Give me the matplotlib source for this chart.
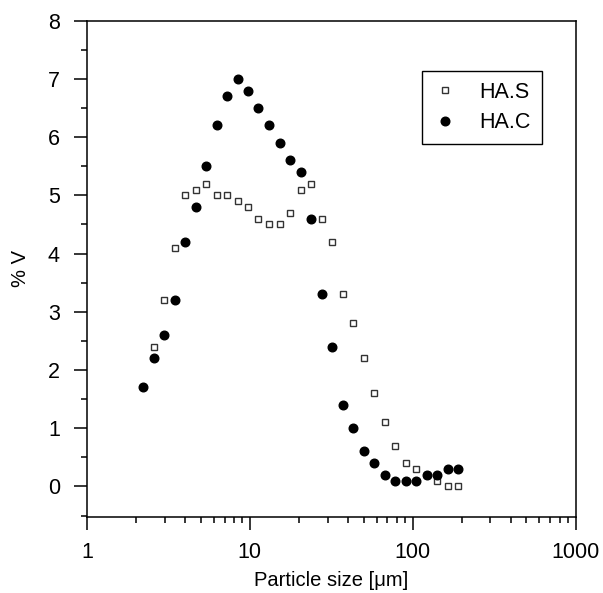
import matplotlib
matplotlib.use("Agg")
from matplotlib import pyplot as plt
from matplotlib.ticker import MultipleLocator, LogLocator, NullFormatter
import numpy as np

plt.rcParams['font.family'] = ['Liberation Sans', 'DejaVu Sans']

# particle size bins (um)
sizes = [2.22, 2.57, 2.98, 3.46, 4.01, 4.65, 5.40, 6.26, 7.26, 8.43,
         9.77, 11.3, 13.2, 15.3, 17.7, 20.5, 23.8, 27.6, 32.1, 37.2,
         43.1, 50.0, 58.0, 67.3, 78.1, 90.6, 105, 122, 141, 164, 190]

# HA.S has no point in the first bin
has_values = [np.nan, 2.4, 3.2, 4.1, 5.0, 5.1, 5.2, 5.0, 5.0, 4.9,
              4.8, 4.6, 4.5, 4.5, 4.7, 5.1, 5.2, 4.6, 4.2, 3.3,
              2.8, 2.2, 1.6, 1.1, 0.7, 0.4, 0.3, 0.2, 0.1, 0.0, 0.0]

hac_values = [1.7, 2.2, 2.6, 3.2, 4.2, 4.8, 5.5, 6.2, 6.7, 7.0,
              6.8, 6.5, 6.2, 5.9, 5.6, 5.4, 4.6, 3.3, 2.4, 1.4,
              1.0, 0.6, 0.4, 0.2, 0.1, 0.1, 0.1, 0.2, 0.2, 0.3, 0.3]

x_ticks = [1, 10, 100, 1000]
y_ticks = list(range(0, 9))


def main():

    fig = plt.figure(figsize=(6.03, 5.93), dpi=100)
    ax = fig.add_axes([0.1443, 0.1287, 0.8101, 0.8364])

    ax.plot(sizes, has_values, linestyle='none', marker='s', markersize=5,
            markerfacecolor='white', markeredgecolor='#333333', markeredgewidth=1.0,
            label='HA.S')
    ax.plot(sizes, hac_values, linestyle='none', marker='o', markersize=6.2,
            color='black', label='HA.C')

    ax.set_xscale('log')
    ax.set_xlim(1, 1000)
    ax.set_ylim(-0.52, 8)

    ax.xaxis.set_minor_locator(LogLocator(base=10, subs=np.arange(2, 10), numticks=10))
    ax.xaxis.set_minor_formatter(NullFormatter())
    ax.set_xticks(x_ticks)
    ax.set_xticklabels([str(t) for t in x_ticks])

    ax.yaxis.set_minor_locator(MultipleLocator(0.5))
    ax.set_yticks(y_ticks)

    for side in ['left', 'right', 'top', 'bottom']:
        ax.spines[side].set_linewidth(1.1)

    ax.tick_params(which='major', direction='out', length=9, width=1.1,
                   labelsize=15.5)
    ax.tick_params(which='minor', direction='out', length=4.5, width=1.1)
    ax.tick_params(axis='x', which='major', pad=9)
    ax.tick_params(axis='y', which='major', length=9.5, pad=10)

    ax.set_xlabel('Particle size [\u03bcm]', fontsize=14.5, labelpad=6)
    ax.set_ylabel('% V', fontsize=14.5, labelpad=13)

    leg = ax.legend(loc='upper right', bbox_to_anchor=(0.931, 0.899),
                    borderaxespad=0, fontsize=15.5, fancybox=False,
                    edgecolor='black', framealpha=1, handletextpad=1.0,
                    handlelength=1.2, borderpad=0.5, labelspacing=0.45,
                    numpoints=1)
    leg.get_frame().set_linewidth(1.0)

    fig.savefig('out.png', dpi=100)


if __name__ == '__main__':

    main()
